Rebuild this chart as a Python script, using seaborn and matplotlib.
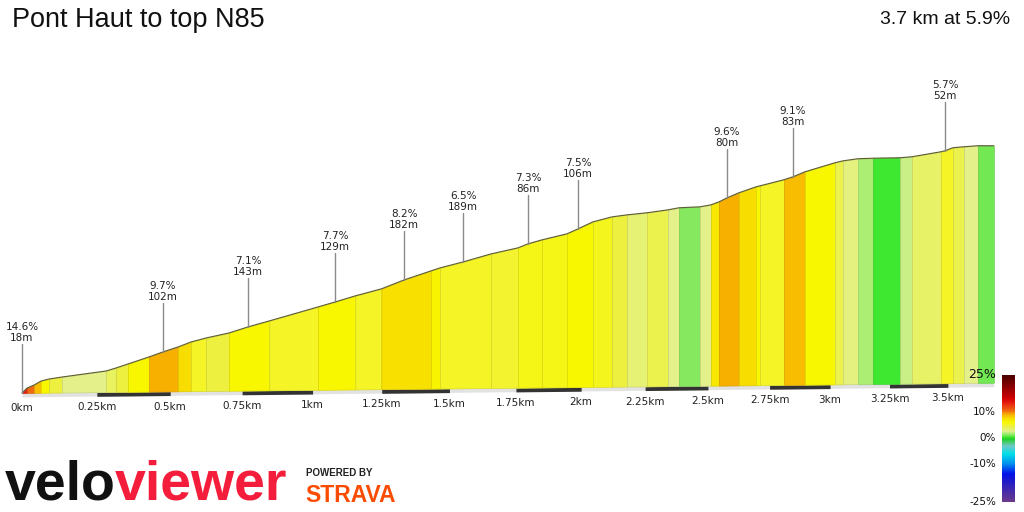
import numpy as np
import matplotlib
matplotlib.use("Agg")
import matplotlib.pyplot as plt
import seaborn as sns
from matplotlib.colors import LinearSegmentedColormap, to_rgb

# ---------------- data ----------------
title = "Pont Haut to top N85"
summary = "3.7 km at 5.9%"

profile_km = [0.000, 0.017, 0.040, 0.063, 0.090, 0.133, 0.281, 0.315, 0.356, 0.427,
              0.475, 0.527, 0.572, 0.624, 0.704, 0.771, 0.846, 1.020, 1.081, 1.154,
              1.249, 1.332, 1.432, 1.465, 1.551, 1.656, 1.758, 1.796, 1.849, 1.945,
              1.988, 2.046, 2.120, 2.179, 2.257, 2.340, 2.384, 2.468, 2.512, 2.545,
              2.577, 2.625, 2.694, 2.711, 2.809, 2.846, 2.896, 3.020, 3.054, 3.117,
              3.180, 3.295, 3.346, 3.470, 3.488, 3.522, 3.570, 3.631, 3.700]
profile_elev_m = [0.0, 4.5, 7.2, 10.8, 12.6, 14.3, 19.4, 22.1, 25.7, 31.9,
                  36.4, 40.8, 45.3, 48.8, 53.2, 58.6, 63.9, 76.3, 80.7, 86.1,
                  92.3, 100.3, 108.4, 111.0, 116.3, 123.4, 128.7, 132.3, 135.8, 141.1,
                  145.6, 151.9, 156.3, 158.0, 159.7, 162.2, 164.0, 164.7, 166.4, 169.1,
                  172.7, 177.2, 182.5, 183.4, 188.8, 191.4, 195.9, 203.9, 205.6, 207.4,
                  207.7, 207.9, 208.7, 213.0, 213.9, 216.6, 217.4, 218.2, 218.0]

segment_edges_km = [0.000, 0.017, 0.040, 0.063, 0.090, 0.133, 0.281, 0.315, 0.356, 0.427,
                    0.527, 0.572, 0.624, 0.704, 0.846, 1.020, 1.154, 1.249, 1.432, 1.465,
                    1.656, 1.758, 1.849, 1.945, 2.046, 2.120, 2.179, 2.257, 2.340, 2.384,
                    2.468, 2.512, 2.545, 2.625, 2.694, 2.711, 2.809, 2.896, 3.020, 3.054,
                    3.117, 3.180, 3.295, 3.346, 3.470, 3.522, 3.570, 3.631, 3.700]
segment_grade_pct = [14, 11, 9, 6.5, 5, 3, 4, 5, 6.5, 9.5,
                     8, 5.5, 5, 6.5, 5.5, 6.5, 5.5, 7.8, 6.8, 5.5,
                     5.3, 6, 6, 6.5, 5.8, 5, 3.5, 4.5, 3, 1.5,
                     3, 7.3, 9.5, 8, 6.5, 5.5, 9, 6.5, 4.5, 3.3,
                     2, 0.5, 2.5, 3.8, 5.5, 4.5, 3, 1]

climb_km = [0.0, 0.475, 0.771, 1.081, 1.332, 1.551, 1.796, 1.988, 2.577, 2.846, 3.488]
climb_grade = ["14.6%", "9.7%", "7.1%", "7.7%", "8.2%", "6.5%", "7.3%", "7.5%", "9.6%", "9.1%", "5.7%"]
climb_len = ["18m", "102m", "143m", "129m", "182m", "189m", "86m", "106m", "80m", "83m", "52m"]

tick_km = [0, 0.25, 0.5, 0.75, 1, 1.25, 1.5, 1.75, 2, 2.25, 2.5, 2.75, 3, 3.25, 3.5]
tick_labels = ["0km", "0.25km", "0.5km", "0.75km", "1km", "1.25km", "1.5km", "1.75km",
               "2km", "2.25km", "2.5km", "2.75km", "3km", "3.25km", "3.5km"]

cbar_values = [25, 10, 0, -10, -25]
cbar_labels = ["25%", "10%", "0%", "-10%", "-25%"]

# ---------------- style ----------------
sns.set_theme(style="white")
plt.rcParams["font.family"] = ["DejaVu Sans"]

grade_stops = [(-25, "#6b3a8e"), (-18, "#2a20c0"), (-14, "#0010e8"), (-10, "#0090f0"),
               (-6, "#00e0e8"), (-3, "#70c8c8"), (0, "#20d020"), (0.5, "#40e830"),
               (1, "#6ee850"), (1.5, "#88e860"), (2, "#a8ee70"), (2.5, "#cdf08a"),
               (3, "#e4f08c"), (3.5, "#e6f270"), (4.5, "#ecf250"), (5, "#eef040"),
               (5.5, "#f4f42a"), (6.5, "#f8f800"), (8, "#f8dc00"), (9, "#f8c000"),
               (9.5, "#f8b000"), (11, "#f06a10"), (14, "#e82010"), (16, "#d00000"),
               (25, "#4a0000")]
cmap = LinearSegmentedColormap.from_list(
    "grade", [((g + 25) / 50, c) for g, c in grade_stops])

def gcol(g):
    return cmap((g + 25) / 50)

W, H = 1024, 512
fig = plt.figure(figsize=(W / 100, H / 100), dpi=100)
fig.patch.set_facecolor("white")
ax = fig.add_axes([0, 0, 1, 1])

C = 0.041  # perspective compression

def fwd(d):
    d = np.asarray(d, float)
    return d / (1 + C * d)

def inv(u):
    u = np.asarray(u, float)
    return u / (1 - C * u)

ax.set_xscale("function", functions=(fwd, inv))
ax.set_xlim(-0.0725, 3.833)
ax.set_ylim(-109.5, 361.5)
ax.axis("off")

TILT = 2.93

def tilt(d):
    return TILT * fwd(d)

pk = np.array(profile_km)
pe = np.array(profile_elev_m)

# baseline strip
grid = np.linspace(0, pk[-1], 400)
ax.fill_between(grid, tilt(grid) - 3.6, tilt(grid), color="#e2e2e2", lw=0)
for k in tick_km[1::2]:
    g2 = np.linspace(k, k + 0.25, 40)
    ax.fill_between(g2, tilt(g2) - 3.8, tilt(g2) - 0.2, color="#333333", lw=0)

# coloured segments
for i, g in enumerate(segment_grade_pct):
    a, b = segment_edges_km[i], segment_edges_km[i + 1]
    inner = pk[(pk > a) & (pk < b)]
    xs = np.concatenate([[a], inner, [b]])
    ys = np.interp(xs, pk, pe)
    col = gcol(g)
    edge = tuple(np.array(to_rgb(col)) * 0.88)
    ax.fill_between(xs, tilt(xs), ys + tilt(xs), facecolor=col, edgecolor=edge, lw=0.5)

# top outline
sns.lineplot(x=pk, y=pe + tilt(pk), ax=ax, color="#5c5c30", lw=0.8,
             estimator=None, sort=False, legend=False)

# climb annotations
for d, gtxt, ltxt in zip(climb_km, climb_grade, climb_len):
    top = np.interp(d, pk, pe) + tilt(d)
    ax.plot([d, d], [top, top + 45], color="#8a8a8a", lw=1)
    ax.text(d, top + 50.6, ltxt, ha="center", va="center", fontsize=7.5, color="#222222")
    ax.text(d, top + 60.3, gtxt, ha="center", va="center", fontsize=7.5, color="#222222")

# distance labels
for d, lab in zip(tick_km, tick_labels):
    ax.text(d, tilt(d) - 14.0, lab, ha="center", va="center", fontsize=7.5, color="#222222")

# titles
fig.text(12 / W, 1 - 20 / H, title, ha="left", va="center", fontsize=19.5,
         family=["Liberation Sans", "DejaVu Sans"], color="#111111")
fig.text(1010 / W, 1 - 20 / H, summary, ha="right", va="center", fontsize=14,
         family=["Liberation Sans", "DejaVu Sans"], color="#111111")

# colour bar
cax = fig.add_axes([1002 / W, 1 - 502 / H, 13 / W, 127 / H])
grad = np.linspace(25, -25, 300)[:, None]
cax.imshow(grad, aspect="auto", cmap=cmap, vmin=-25, vmax=25, extent=[0, 1, -25, 25])
cax.axis("off")
cbar_y = {25: 375, 10: 412, 0: 438, -10: 464, -25: 502}
for v, lab in zip(cbar_values, cbar_labels):
    fig.text(996 / W, 1 - cbar_y[v] / H, lab, ha="right", va="center",
             fontsize=9 if v == 25 else 7.5, color="#111111")

# logo
logo_fam = ["Liberation Sans", "DejaVu Sans"]
t1 = fig.text(5 / W, 1 - 499 / H, "velo", fontsize=40, fontweight="bold",
              family=logo_fam, color="#111111", va="baseline", ha="left")
fig.canvas.draw()
bb = t1.get_window_extent(fig.canvas.get_renderer())
fig.text((bb.x1 - 1) / W, 1 - 499 / H, "viewer", fontsize=40, fontweight="bold",
         family=logo_fam, color="#f41e3c", va="baseline", ha="left")
fig.text(306 / W, 1 - 473 / H, "POWERED BY", fontsize=7, fontweight="bold",
         family=["Liberation Sans", "DejaVu Sans"], color="#222222", va="center", ha="left")
fig.text(305 / W, 1 - 495 / H, "STRAVA", fontsize=16.5, fontweight="bold",
         family=["Liberation Sans", "DejaVu Sans"], color="#fc4c02", va="center", ha="left")

fig.savefig("out.png", dpi=100, facecolor="white")
